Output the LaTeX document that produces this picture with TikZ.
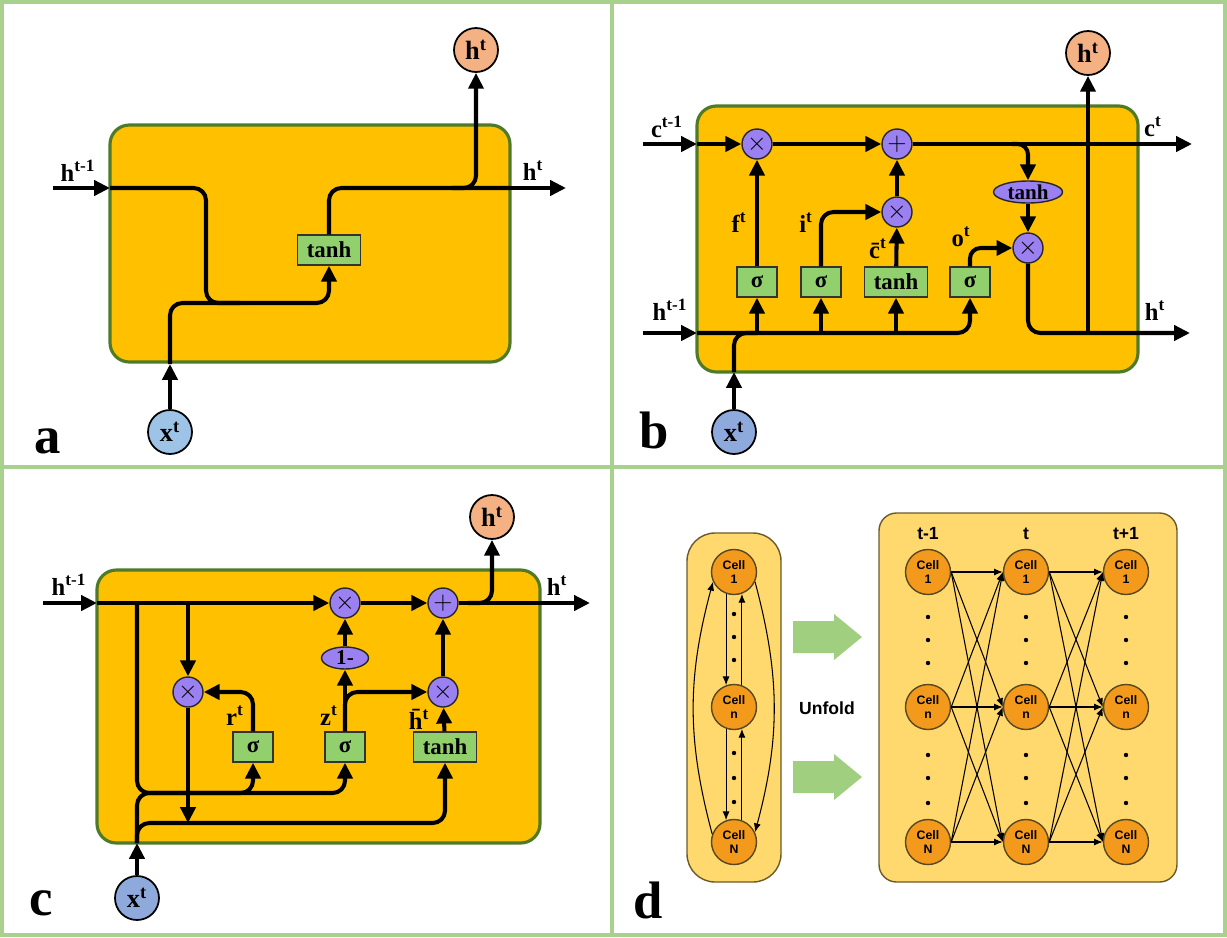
\documentclass[tikz,border=0pt]{standalone}
\usepackage{fontspec}
\setmainfont{Liberation Serif}
\setsansfont{Liberation Sans}
\usetikzlibrary{arrows.meta,shapes.geometric}
\definecolor{framegreen}{HTML}{A9D18E}
\definecolor{cellorange}{HTML}{FFC000}
\definecolor{celledge}{HTML}{4F7A28}
\definecolor{gatefill}{HTML}{92D06E}
\definecolor{opfill}{HTML}{9B80F2}
\definecolor{hfill}{HTML}{F4B183}
\definecolor{xfill}{HTML}{8EA9DB}
\definecolor{xlight}{HTML}{9DC3E6}
\definecolor{dpanel}{HTML}{FFD86E}
\definecolor{dedge}{HTML}{6B5A2A}
\definecolor{dcell}{HTML}{F39A1C}
\definecolor{unfoldgreen}{HTML}{9FCF7F}
\newcommand\lbl[2]{\textbf{#1\textsuperscript{#2}}}

\begin{document}
\begin{tikzpicture}[x=0.02cm, y=-0.02cm,
  flow/.style={line width=2.3pt, -{Triangle[length=9pt,width=8.5pt]}},
  wire/.style={line width=2.3pt},
  cellbox/.style={fill=cellorange, draw=celledge, line width=1.8pt, rounded corners=11pt},
  op/.style={circle, draw=black!85, line width=0.8pt, fill=opfill, minimum size=0.6cm, inner sep=0pt, font=\Large},
  opell/.style={ellipse, draw=black!85, line width=0.8pt, fill=opfill, minimum width=1.38cm, minimum height=0.44cm, inner sep=0pt, font=\fontsize{12}{12}\bfseries},
  gate/.style={rectangle, draw=black!80, line width=0.8pt, fill=gatefill, minimum width=0.8cm, minimum height=0.6cm, inner sep=1pt, font=\fontsize{13}{13}\bfseries},
  gatew/.style={gate, minimum width=1.26cm},
  hnode/.style={circle, draw=black, line width=1pt, fill=hfill, minimum size=0.88cm, inner sep=0pt, font=\fontsize{15}{15}\bfseries},
  xnode/.style={hnode, fill=xfill},
  lab/.style={anchor=base, inner sep=0pt, font=\fontsize{14}{14}\bfseries},
  panel/.style={anchor=base, inner sep=0pt, font=\fontsize{30}{30}\bfseries},
  dbox/.style={fill=dpanel, draw=dedge, line width=0.8pt},
  cell/.style={circle, draw=dedge!80!black, line width=0.8pt, fill=dcell, minimum size=0.9cm, inner sep=0pt, align=center, font=\sffamily\bfseries\fontsize{7}{7.5}\selectfont},
  darrow/.style={line width=0.6pt, -{Latex[length=5pt,width=4pt]}},
  ddot/.style={circle, fill=black, inner sep=0pt, minimum size=2.5pt},
  dlab/.style={font=\sffamily\bfseries\fontsize{10}{10}\selectfont, inner sep=0pt}]

\useasboundingbox (0,0) rectangle (1227,937);
\draw[framegreen, line width=2.3pt] (2,2) rectangle (1225,935);
\draw[framegreen, line width=2.3pt] (612,2) -- (612,935);
\draw[framegreen, line width=2.3pt] (2,467) -- (1225,467);

% a: plain RNN cell
\draw[cellbox] (110,125) rectangle (510,362);
\node[gatew] (atanh) at (329,250) {tanh};
\node[hnode] (ah) at (476,50) {\lbl{h}{t}};
\node[xnode, fill=xlight] (ax) at (170,432) {\lbl{x}{t}};
\coordinate (ain) at (53,188);
\coordinate (aL) at (110,188);
\coordinate (aR) at (510,188);
\coordinate (aout) at (566,188);
\coordinate (aB) at (170,364);
\coordinate (alow) at (206,303);
\coordinate (alow2) at (240,303);
\coordinate (asplit) at (452,188);
\draw[flow] (ain) -- (aL);
\draw[flow, rounded corners=7pt] (aL) -| (alow) -| (atanh);
\draw[wire, rounded corners=7pt] (aB) |- (alow2);
\draw[wire, rounded corners=7pt] (atanh) |- (aR);
\draw[flow] (aR) -- (aout);
\draw[flow, rounded corners=7pt] (asplit) -| (ah);
\draw[flow] (ax) -- (aB);
\node[lab] (lahin) at (78,181) {\lbl{h}{t-1}};
\node[lab] (lahout) at (533,180) {\lbl{h}{t}};
\node[panel] (la) at (48,453) {a};

% b: LSTM cell
\draw[cellbox] (697,106) rectangle (1138,372);
\node[op] (bf) at (757,144) {$\times$};
\node[op] (bp) at (897,144) {$+$};
\node[op] (bi) at (897,212) {$\times$};
\node[op] (bo) at (1028,248) {$\times$};
\node[opell] (bt) at (1028,192) {tanh};
\node[gate] (bsf) at (757,282) {σ};
\node[gate] (bsi) at (821,282) {σ};
\node[gatew] (btc) at (896,282) {tanh};
\node[gate] (bso) at (970,282) {σ};
\node[hnode] (bh) at (1088,53) {\lbl{h}{t}};
\node[xnode] (bx) at (734,432) {\lbl{x}{t}};
\coordinate (bcin) at (643,144);
\coordinate (bcL) at (697,144);
\coordinate (bcout) at (1192,144);
\coordinate (bcsplit) at (1012,144);
\coordinate (bhin) at (643,333);
\coordinate (bhL) at (697,333);
\coordinate (bhout) at (1190,333);
\coordinate (bj) at (1088,333);
\coordinate (bB) at (734,372);
\draw[flow] (bcin) -- (bcL);
\draw[flow] (bcL) -- (bf);
\draw[flow] (bf) -- (bp);
\draw[flow] (bp) -- (bcout);
\draw[flow, rounded corners=6pt] (bcsplit) -| (bt);
\draw[flow] (bt) -- (bo);
\draw[flow, rounded corners=6pt] (bso) |- (bo);
\draw[flow, rounded corners=7pt] (bo) |- (bhout);
\draw[flow] (bj) -- (bh);
\draw[flow] (bhin) -- (bhL);
\draw[flow, rounded corners=7pt] (bhL) -| (bso);
\draw[flow] (bsf |- bhL) -- (bsf);
\draw[flow] (bsi |- bhL) -- (bsi);
\draw[flow] (btc |- bhL) -- (btc);
\draw[flow] (bx) -- (bB);
\draw[wire, rounded corners=7pt] (bB) |- (bsf |- bhL);
\draw[flow] (bsf) -- (bf);
\draw[flow, rounded corners=7pt] (bsi) |- (bi);
\draw[flow] (btc) -- (bi);
\draw[flow] (bi) -- (bp);
\node[lab] (lbcin) at (667,137) {\lbl{c}{t-1}};
\node[lab] (lbcout) at (1153,136) {\lbl{c}{t}};
\node[lab] (lbhin) at (670,320) {\lbl{h}{t-1}};
\node[lab] (lbhout) at (1155,320) {\lbl{h}{t}};
\node[lab] (lbf) at (739,232) {\lbl{f}{t}};
\node[lab] (lbi) at (806,232) {\lbl{i}{t}};
\node[lab] (lbc) at (878,258) {\lbl{\={c}}{t}};
\node[lab] (lbo) at (961,246) {\lbl{o}{t}};
\node[panel] (lb) at (654,448) {b};

% c: GRU cell
\draw[cellbox] (97,570) rectangle (540,843);
\node[op] (cz) at (345,603) {$\times$};
\node[op] (cp) at (443,603) {$+$};
\node[op] (cr) at (188,692) {$\times$};
\node[op] (cm) at (443,692) {$\times$};
\node[opell, minimum width=0.94cm] (cone) at (345,658) {1-};
\node[gate] (csr) at (253,747) {σ};
\node[gate] (csz) at (345,747) {σ};
\node[gatew] (cth) at (445,747) {tanh};
\node[hnode] (ch) at (492,517) {\lbl{h}{t}};
\node[xnode] (cx) at (137,898) {\lbl{x}{t}};
\coordinate (chin) at (43,603);
\coordinate (chL) at (97,603);
\coordinate (chout) at (590,603);
\coordinate (csplit) at (468,603);
\coordinate (cB) at (137,843);
\coordinate (cv) at (137,603);
\coordinate (cmid) at (137,793);
\coordinate (cmid2) at (180,793);
\coordinate (clow) at (137,823);
\draw[flow] (chin) -- (chL);
\draw[flow] (chL) -- (cz);
\draw[flow] (cz) -- (cp);
\draw[flow] (cp) -- (chout);
\draw[flow, rounded corners=7pt] (csplit) -| (ch);
\draw[flow, rounded corners=7pt] (cv) -- (cmid) -| (csz);
\draw[flow, rounded corners=7pt] (cmid2) -| (csr);
\draw[flow] (cx) -- (cB);
\draw[wire, rounded corners=7pt] (cB) |- (cmid2);
\draw[flow, rounded corners=7pt] (cB) |- (cr |- clow) -| (cth);
\draw[flow] (cr |- cv) -- (cr);
\draw[flow] (cr) -- (cr |- clow);
\draw[flow, rounded corners=7pt] (csr) |- (cr);
\draw[flow] (csz) -- (cone);
\draw[flow] (cone) -- (cz);
\draw[flow, rounded corners=7pt] (csz.north) |- (cm);
\draw[flow] (cth) -- (cm);
\draw[flow] (cm) -- (cp);
\node[lab] (lchin) at (69,595) {\lbl{h}{t-1}};
\node[lab] (lchout) at (557,595) {\lbl{h}{t}};
\node[lab] (lcr) at (235,725) {\lbl{r}{t}};
\node[lab] (lcz) at (329,725) {\lbl{z}{t}};
\node[lab] (lch) at (419,729) {\lbl{\={h}}{t}};
\node[panel] (lc) at (41,915) {c};

% d: recurrent layer and its unfolding
\draw[dbox, rounded corners=16pt] (687,533) rectangle (781,882);
\draw[dbox, rounded corners=10pt] (879,513) rectangle (1177,882);
\node[cell] (L1) at (734,572) {Cell\\1};
\node[cell] (Ln) at (734,707) {Cell\\n};
\node[cell] (LN) at (734,842) {Cell\\N};
\foreach \yy in {614,637,660,753,778,802}
  \node[ddot] (ld\yy) at (734,\yy) {};
\draw[darrow] (L1.250) -- (Ln.110);
\draw[darrow] (Ln.70) -- (L1.290);
\draw[darrow] (Ln.250) -- (LN.110);
\draw[darrow] (LN.70) -- (Ln.290);
\draw[darrow] (LN.160) to[out=105, in=255] (L1.205);
\draw[darrow] (L1.-25) to[out=-75, in=75] (LN.25);
\fill[unfoldgreen] (793,621) -- (834,621) -- (834,614) -- (862,637) -- (834,660) -- (834,653) -- (793,653) -- cycle;
\fill[unfoldgreen] (793,761) -- (834,761) -- (834,754) -- (862,777) -- (834,800) -- (834,793) -- (793,793) -- cycle;
\node[dlab] (unfold) at (827,708) {Unfold};
\foreach \col/\xx/\tt in {a/928/t-1, b/1026/t, c/1126/t+1} {
  \node[dlab] (h\col) at (\xx,534) {\tt};
  \node[cell] (\col1) at (\xx,572) {Cell\\1};
  \node[cell] (\col2) at (\xx,707) {Cell\\n};
  \node[cell] (\col3) at (\xx,842) {Cell\\N};
  \foreach \yy in {617,640,663,755,778,803}
    \node[ddot] (\col d\yy) at (\xx,\yy) {};
}
\foreach \s/\t in {a/b, b/c}
  \foreach \i in {1,2,3}
    \foreach \j in {1,2,3}
      \draw[darrow] (\s\i.east) -- (\t\j.west);
\node[panel] (ld) at (648,918) {d};
\end{tikzpicture}
\end{document}
